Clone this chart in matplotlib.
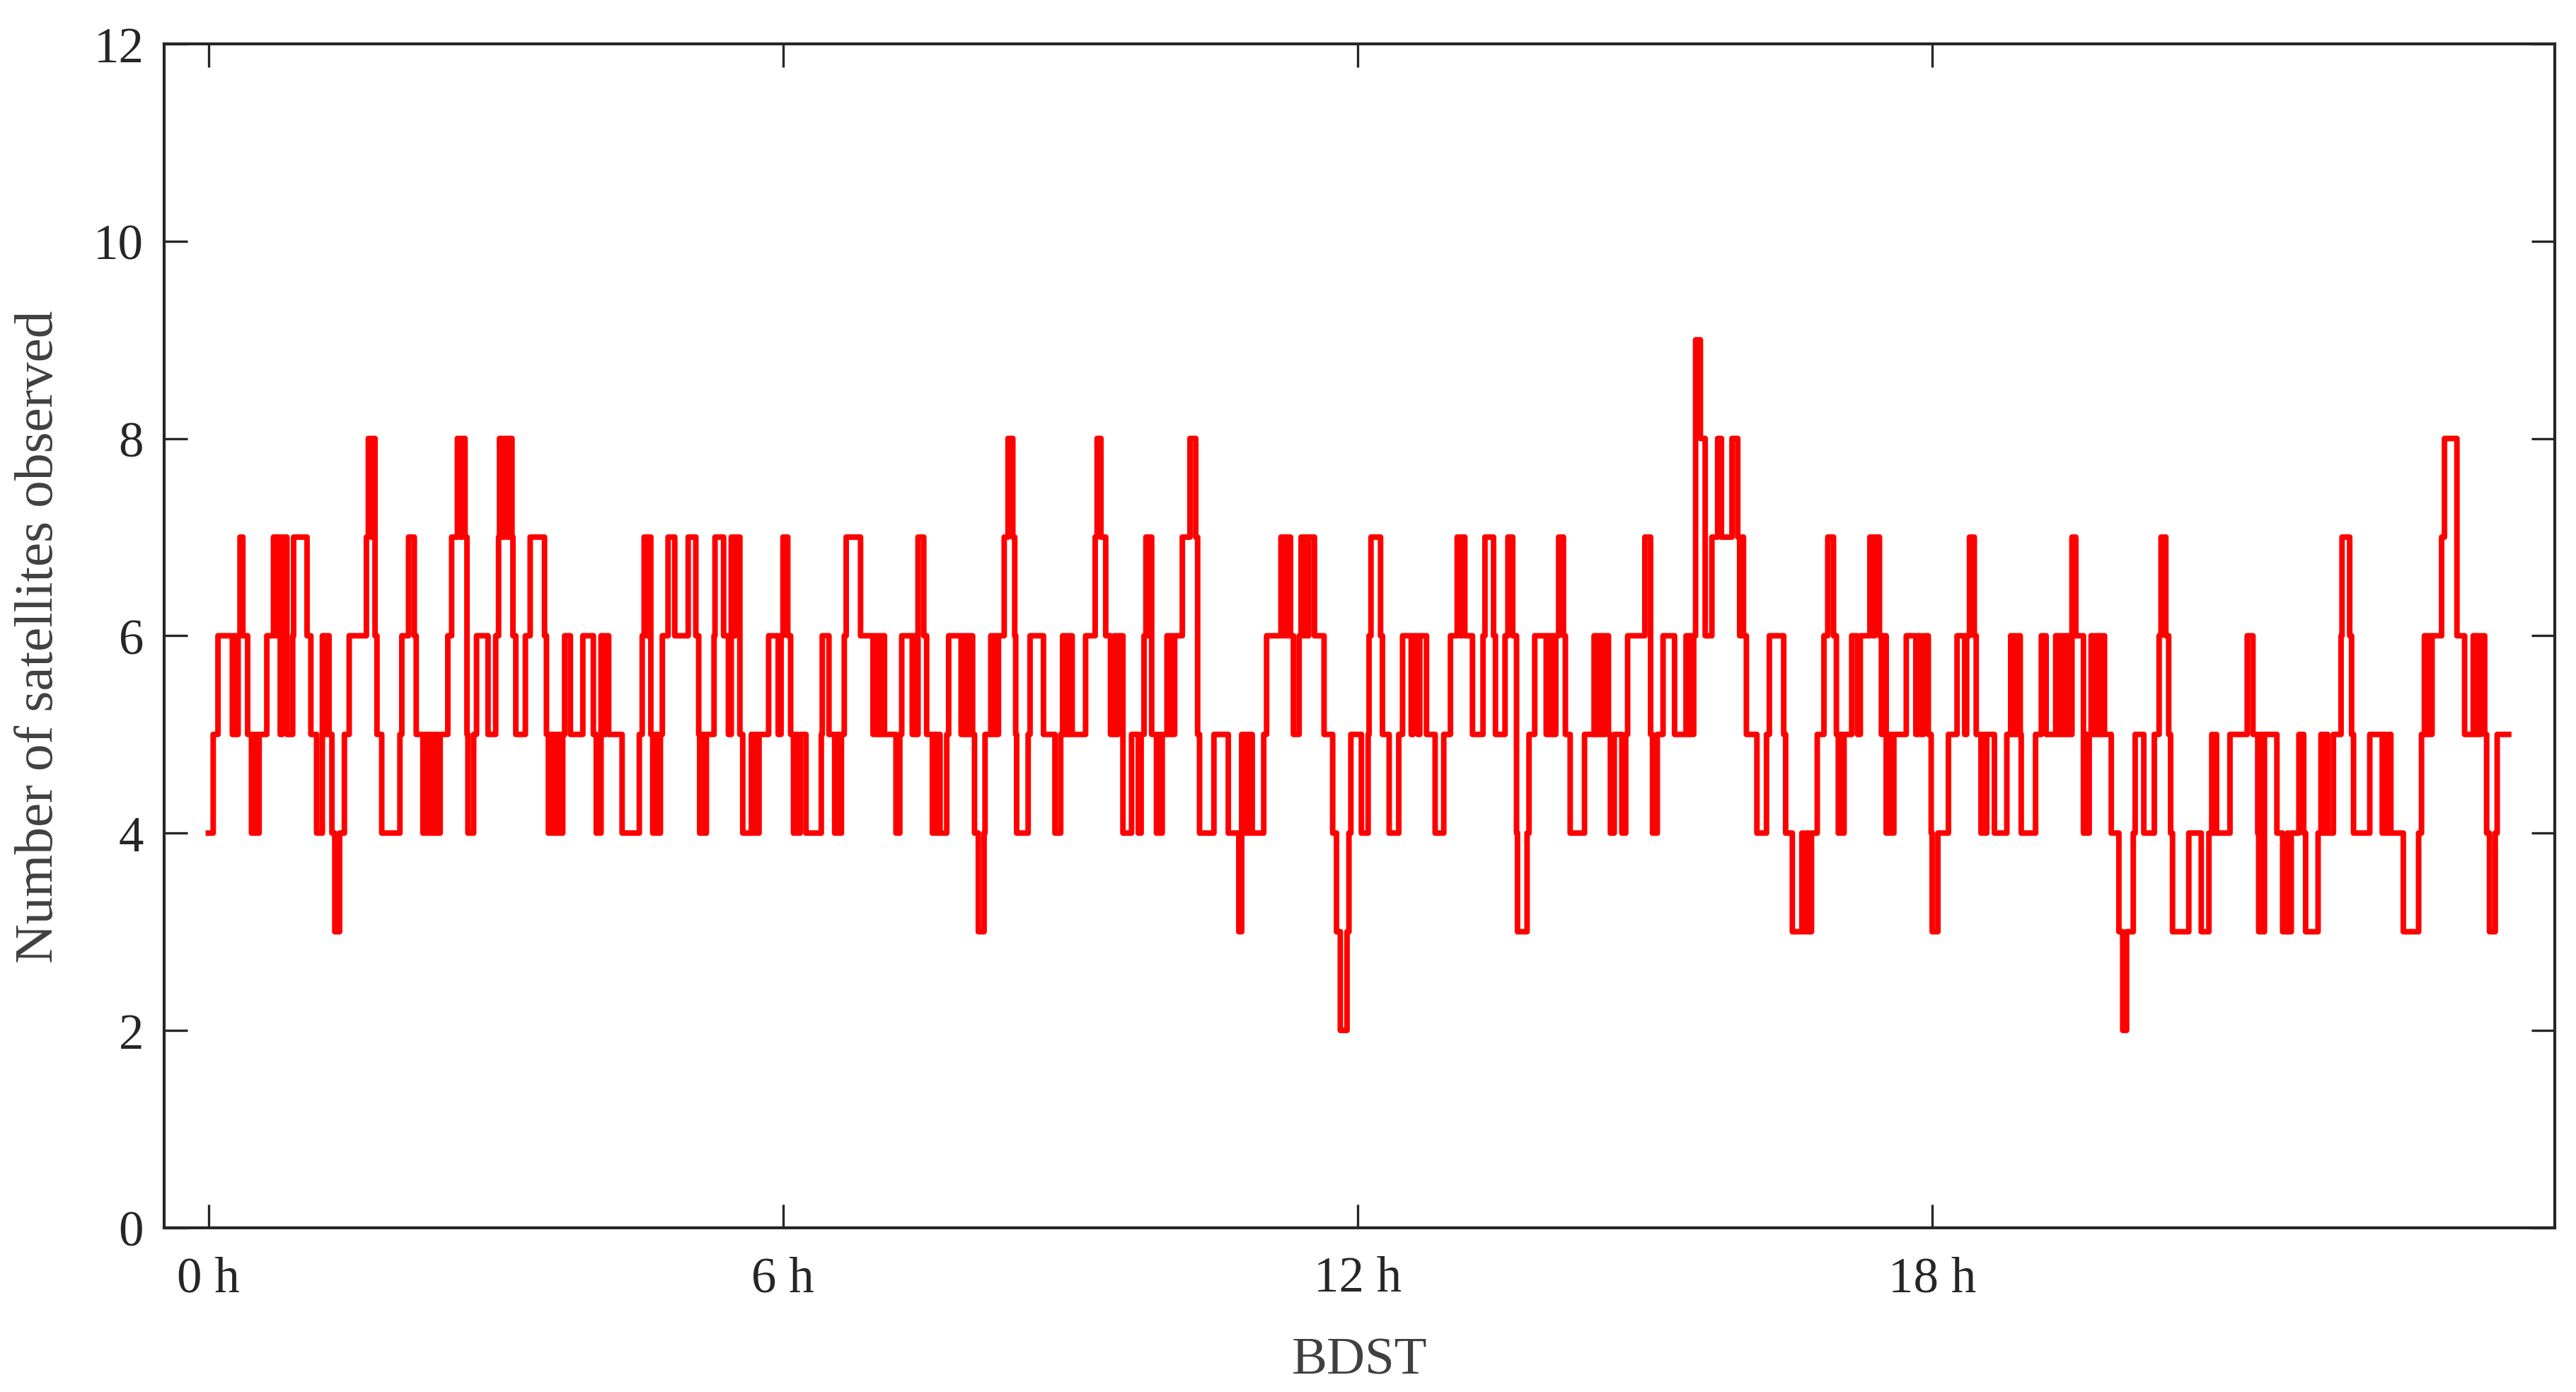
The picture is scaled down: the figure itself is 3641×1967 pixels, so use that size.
import matplotlib
matplotlib.use("Agg")
import matplotlib.pyplot as plt

# time (hours, BDST) at which the number of observed satellites changes, and the new count
change_hours = [
    0.00, 0.05, 0.10, 0.25, 0.27, 0.29, 0.31, 0.33, 0.36, 0.41, 0.45, 0.47, 0.48, 0.50, 0.51, 0.53,
    0.61, 0.68, 0.71, 0.72, 0.75, 0.77, 0.82, 0.88, 0.89, 1.03, 1.07, 1.13, 1.19, 1.22, 1.24, 1.26,
    1.29, 1.32, 1.37, 1.42, 1.47, 1.65, 1.67, 1.70, 1.72, 1.74, 1.76, 1.81, 2.00, 2.02, 2.09, 2.15,
    2.17, 2.24, 2.27, 2.29, 2.32, 2.34, 2.37, 2.39, 2.42, 2.50, 2.54, 2.60, 2.63, 2.65, 2.68, 2.70,
    2.71, 2.77, 2.80, 2.92,
    3.00, 3.03, 3.04, 3.07, 3.09, 3.12, 3.14, 3.17, 3.18, 3.21, 3.31, 3.36, 3.51, 3.53, 3.55, 3.57,
    3.59, 3.61, 3.63, 3.66, 3.68, 3.70, 3.72, 3.78, 3.91, 4.02, 4.05, 4.10, 4.13, 4.15, 4.18, 4.32,
    4.50, 4.53, 4.55, 4.58, 4.60, 4.62, 4.64, 4.67, 4.69, 4.72, 4.74, 4.80, 4.87, 5.01, 5.09, 5.12,
    5.13, 5.16, 5.18, 5.20, 5.28, 5.29, 5.38, 5.43, 5.46, 5.48, 5.50, 5.55, 5.58, 5.67, 5.69, 5.71,
    5.73, 5.75, 5.85, 5.95, 5.98, 6.00,
    6.05, 6.08, 6.11, 6.13, 6.15, 6.18, 6.24, 6.40, 6.41, 6.48, 6.54, 6.56, 6.58, 6.61, 6.64, 6.66,
    6.81, 6.94, 6.96, 6.98, 7.00, 7.02, 7.04, 7.06, 7.18, 7.22, 7.24, 7.35, 7.37, 7.39, 7.41, 7.47,
    7.50, 7.56, 7.58, 7.60, 7.62, 7.64, 7.71, 7.73, 7.86, 7.88, 7.90, 7.92, 7.94, 7.96, 7.98, 8.00,
    8.04, 8.10, 8.11, 8.17, 8.19, 8.21, 8.23, 8.25, 8.31, 8.35, 8.40, 8.42, 8.43, 8.44, 8.56, 8.58,
    8.72, 8.84, 8.90, 8.92, 8.94, 8.96, 8.98, 9.00,
    9.02, 9.16, 9.26, 9.28, 9.32, 9.37, 9.42, 9.46, 9.48, 9.50, 9.55, 9.64, 9.71, 9.74, 9.77, 9.79,
    9.81, 9.83, 9.85, 9.90, 9.92, 9.93, 9.96, 10.01, 10.03, 10.05, 10.07, 10.09, 10.17, 10.25, 10.31,
    10.33, 10.35, 10.50, 10.65, 10.76, 10.79, 10.81, 10.83, 10.85, 10.87, 10.90, 11.02, 11.05, 11.20,
    11.22, 11.24, 11.26, 11.28, 11.30, 11.33, 11.39, 11.41, 11.43, 11.45, 11.47, 11.49, 11.55, 11.65,
    11.74, 11.78, 11.82, 11.89, 11.91, 11.93,
    12.04, 12.11, 12.12, 12.14, 12.24, 12.26, 12.33, 12.43, 12.47, 12.56, 12.58, 12.63, 12.65, 12.72,
    12.81, 12.90, 12.97, 13.04, 13.07, 13.09, 13.12, 13.20, 13.31, 13.33, 13.42, 13.44, 13.54, 13.57,
    13.62, 13.66, 13.67, 13.77, 13.79, 13.85, 13.97, 13.99, 14.01, 14.03, 14.05, 14.07, 14.10, 14.15,
    14.17, 14.22, 14.37, 14.47, 14.49, 14.51, 14.53, 14.55, 14.57, 14.59, 14.62, 14.64, 14.68, 14.76,
    14.80, 14.82, 15.00,
    15.06, 15.08, 15.13, 15.19, 15.31, 15.43, 15.45, 15.47, 15.49, 15.51, 15.53, 15.58, 15.63, 15.70,
    15.76, 15.80, 15.91, 15.97, 15.99, 16.01, 16.03, 16.06, 16.17, 16.27, 16.30, 16.45, 16.47, 16.54,
    16.64, 16.66, 16.69, 16.71, 16.74, 16.80, 16.87, 16.91, 16.97, 17.00, 17.02, 17.04, 17.06, 17.08,
    17.16, 17.22, 17.25, 17.35, 17.38, 17.40, 17.45, 17.47, 17.49, 17.52, 17.55, 17.57, 17.60, 17.73,
    17.83, 17.85, 17.88, 17.91, 17.96, 17.99, 18.00, 18.06,
    18.17, 18.26, 18.34, 18.36, 18.39, 18.44, 18.46, 18.51, 18.53, 18.55, 18.57, 18.65, 18.78, 18.82,
    18.84, 18.86, 18.88, 18.90, 18.92, 18.93, 19.08, 19.14, 19.19, 19.29, 19.31, 19.33, 19.35, 19.37,
    19.39, 19.41, 19.43, 19.46, 19.50, 19.58, 19.60, 19.62, 19.64, 19.66, 19.68, 19.70, 19.72, 19.74,
    19.76, 19.78, 19.80, 19.87, 19.95, 19.99, 20.03, 20.10, 20.12, 20.21, 20.32, 20.37, 20.39, 20.44,
    20.47, 20.49, 20.51, 20.68, 20.81, 20.89, 20.92, 20.94, 20.96, 20.97, 21.11,
    21.29, 21.35, 21.40, 21.41, 21.43, 21.45, 21.47, 21.60, 21.66, 21.71, 21.72, 21.75, 21.83, 21.88,
    21.90, 22.03, 22.06, 22.09, 22.11, 22.13, 22.19, 22.27, 22.28, 22.36, 22.38, 22.40, 22.57, 22.70,
    22.72, 22.74, 22.77, 22.79, 22.92, 23.08, 23.11, 23.14, 23.16, 23.18, 23.20, 23.22, 23.32, 23.35,
    23.48, 23.56, 23.65, 23.67, 23.69, 23.71, 23.73, 23.77, 23.79, 23.82, 23.88, 23.90,
]
sat_count = [
    4, 5, 6, 5, 6, 5, 6, 7, 6, 5, 4, 5, 4, 5, 4, 5,
    6, 7, 6, 7, 5, 7, 5, 6, 7, 6, 5, 4, 6, 5, 6, 5,
    4, 3, 4, 5, 6, 7, 8, 7, 8, 6, 5, 4, 5, 6, 7, 6,
    5, 4, 5, 4, 5, 4, 5, 4, 5, 6, 7, 8, 7, 8, 7, 5,
    4, 5, 6, 5,
    6, 7, 8, 7, 8, 7, 8, 7, 6, 5, 6, 7, 6, 5, 4, 5,
    4, 5, 4, 5, 4, 5, 6, 5, 6, 5, 4, 6, 5, 6, 5, 4,
    5, 6, 7, 6, 7, 5, 4, 5, 4, 5, 6, 7, 6, 7, 6, 5,
    4, 5, 4, 5, 6, 7, 6, 5, 7, 6, 7, 5, 4, 5, 4, 5,
    4, 5, 6, 5, 6, 7,
    6, 5, 4, 5, 4, 5, 4, 5, 6, 5, 4, 5, 4, 5, 6, 7,
    6, 5, 6, 5, 6, 5, 6, 5, 4, 5, 6, 5, 6, 5, 7, 6,
    5, 4, 5, 4, 5, 4, 5, 6, 5, 6, 5, 6, 5, 6, 5, 4,
    3, 4, 5, 6, 5, 6, 5, 6, 7, 8, 7, 6, 5, 4, 5, 6,
    5, 4, 5, 6, 5, 6, 5, 6,
    5, 6, 7, 8, 7, 6, 5, 6, 5, 6, 4, 5, 4, 5, 6, 7,
    6, 7, 5, 4, 5, 4, 5, 6, 5, 6, 5, 6, 7, 8, 7,
    5, 4, 5, 4, 3, 5, 4, 5, 4, 5, 4, 5, 6, 7,
    6, 7, 6, 7, 6, 5, 6, 7, 6, 7, 6, 7, 6, 5,
    4, 3, 2, 3, 4, 5,
    4, 5, 6, 7, 6, 5, 4, 5, 6, 5, 6, 5, 6, 5,
    4, 5, 6, 7, 6, 7, 6, 5, 6, 7, 6, 5, 6, 7,
    6, 4, 3, 4, 5, 6, 5, 6, 5, 6, 5, 6, 7, 6,
    5, 4, 5, 6, 5, 6, 5, 6, 5, 6, 5, 4, 5, 4,
    5, 6, 7,
    5, 4, 5, 6, 5, 6, 5, 6, 5, 6, 9, 8, 6, 7,
    8, 7, 8, 7, 6, 7, 6, 5, 4, 5, 6, 5, 4, 3,
    4, 3, 4, 3, 4, 5, 6, 7, 6, 5, 4, 5, 4, 5,
    6, 5, 6, 7, 6, 7, 6, 5, 6, 4, 5, 4, 5, 6,
    5, 6, 5, 6, 5, 4, 3, 4,
    5, 6, 5, 6, 7, 6, 5, 4, 5, 4, 5, 4, 5, 6,
    5, 6, 5, 6, 5, 4, 5, 6, 5, 6, 5, 6, 5, 6,
    5, 6, 5, 7, 6, 4, 5, 4, 5, 6, 5, 6, 5, 6,
    5, 6, 5, 4, 3, 2, 3, 4, 5, 4, 5, 6, 7, 6,
    5, 4, 3, 4, 3, 4, 5, 4, 5, 4, 5,
    6, 5, 4, 3, 5, 3, 5, 4, 3, 4, 3, 4, 5, 4,
    3, 4, 5, 4, 5, 4, 5, 6, 7, 6, 5, 4, 5, 4,
    5, 4, 5, 4, 3, 4, 5, 6, 5, 6, 5, 6, 7, 8,
    6, 5, 6, 5, 6, 5, 6, 5, 4, 3, 4, 5,
]
end_hour = 24.02

x_ticks = [0, 6, 12, 18]
x_labels = ["0 h", "6 h", "12 h", "18 h"]
y_ticks = [0, 2, 4, 6, 8, 10, 12]

plt.rcParams['font.family'] = ['Liberation Serif', 'DejaVu Serif']
plt.rcParams['font.size'] = 17

fig = plt.figure(figsize=(3641 / 300, 1968 / 300), dpi=300)
ax = fig.add_axes([0.0638, 0.118, 0.9279, 0.850])

xs = change_hours + [end_hour]
ys = sat_count + [sat_count[-1]]
ax.step(xs, ys, where='post', color='#ff0000', linewidth=1.9)

ax.set_xlim(-0.46, 24.5)
ax.set_ylim(0, 12)
ax.set_xticks(x_ticks)
ax.set_xticklabels(x_labels)
ax.set_yticks(y_ticks)

dark = '#262626'
for s in ax.spines.values():
    s.set_color(dark)
    s.set_linewidth(1.0)
ax.tick_params(direction='in', length=8, width=0.8, color=dark, labelcolor=dark,
               top=True, right=True, labelsize=17)
ax.tick_params(axis='x', pad=9.5)
ax.tick_params(axis='y', pad=7)

ax.set_xlabel('BDST', color='#404040', fontsize=18, labelpad=12)
ax.set_ylabel('Number of satellites observed', color='#404040', fontsize=18.5, labelpad=10)

fig.savefig('out.png', dpi=300)
